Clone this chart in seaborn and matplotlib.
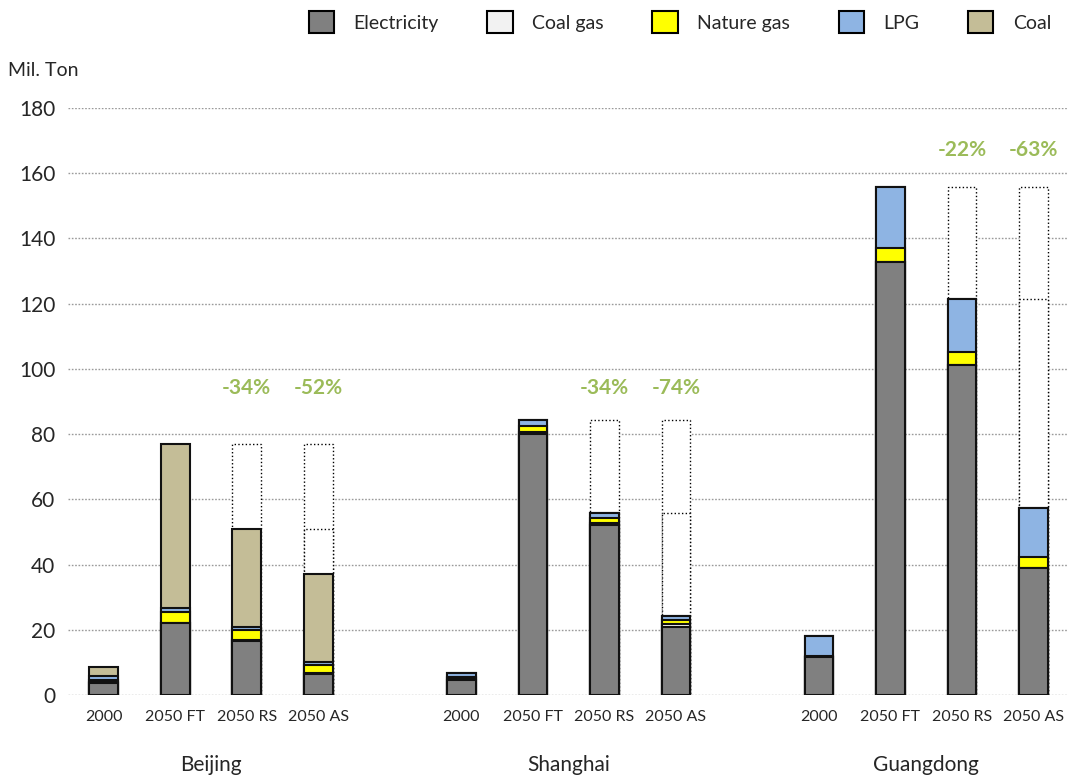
import numpy as np
import pandas as pd
import matplotlib
matplotlib.use("Agg")
import matplotlib.pyplot as plt
import seaborn as sns
from matplotlib.patches import Patch

# ---- data (Mil. Ton) -------------------------------------------------------
regions = ["Beijing", "Shanghai", "Guangdong"]
scenarios = ["2000", "2050 FT", "2050 RS", "2050 AS"]

# one value per bar, ordered Beijing x4, Shanghai x4, Guangdong x4
electricity = [3.6, 22.0, 16.7, 6.4, 4.6, 80.0, 52.1, 21.0, 11.5, 132.7, 101.2, 38.9]
coal_gas = [0.3, 0.2, 0.2, 0.2, 0.7, 0.8, 0.6, 0.8, 0.3, 0.0, 0.0, 0.0]
nature_gas = [0.8, 3.2, 2.9, 2.6, 0.2, 1.7, 1.5, 1.2, 0.1, 4.5, 3.9, 3.5]
lpg = [1.1, 1.3, 1.2, 1.0, 1.1, 1.7, 1.5, 1.3, 6.1, 18.6, 16.3, 14.9]
coal = [2.9, 50.2, 30.0, 26.9, 0.0, 0.0, 0.0, 0.0, 0.0, 0.0, 0.0, 0.0]

# reduction against 2050 FT, for the RS and AS bars of each region
reductions = ["-34%", "-52%", "-34%", "-74%", "-22%", "-63%"]
reduction_y = [94, 94, 94, 94, 167, 167]

series_names = ["Electricity", "Coal gas", "Nature gas", "LPG", "Coal"]
series_colors = ["#808080", "#F2F2F2", "#FFFF00", "#8EB4E3", "#C4BD97"]
green = "#9BBB59"

# ---- table ------------------------------------------------------------------
n_sc = len(scenarios)
pos = [g * (n_sc + 1) + i for g in range(len(regions)) for i in range(n_sc)]
layers = np.array([electricity, coal_gas, nature_gas, lpg, coal])
cum = np.cumsum(layers, axis=0)
df = pd.DataFrame({"pos": pos})
for name, c in zip(series_names, cum):
    df[name] = c
total = cum[-1]

# dotted outlines: saved amount relative to FT (and RS for the AS bars)
ft_level = np.zeros(len(pos))
rs_level = np.zeros(len(pos))
for g in range(len(regions)):
    b = g * n_sc
    ft_level[b + 2] = total[b + 1]
    ft_level[b + 3] = total[b + 1]
    rs_level[b + 3] = total[b + 2]
df["ft_level"] = ft_level
df["rs_level"] = rs_level

# ---- figure -----------------------------------------------------------------
sns.set_theme(style="white")
plt.rcParams["font.family"] = ["Lato", "DejaVu Sans"]

fig = plt.figure(figsize=(10.67, 7.80), dpi=100)
ax = fig.add_axes([68 / 1067, 85 / 780, 999 / 1067, 587 / 780])

bar_kw = dict(x="pos", native_scale=True, width=0.4, saturation=1,
              errorbar=None, ax=ax)

for col in ["ft_level", "rs_level"]:
    sns.barplot(data=df, y=col, color="white", edgecolor="black",
                linewidth=1.0, linestyle=":", **bar_kw)

for name, color in reversed(list(zip(series_names, series_colors))):
    sns.barplot(data=df, y=name, color=color, edgecolor="#111111",
                linewidth=1.5, **bar_kw)

# reduction labels
lab_pos = [p for i, p in enumerate(pos) if i % n_sc >= 2]
for x, txt, y in zip(lab_pos, reductions, reduction_y):
    ax.text(x, y, txt, ha="center", va="center", color=green,
            fontsize=15, fontweight="bold")

# axes styling
ax.set_xlim(-0.5, 13.47)
ax.set_ylim(0, 180)
ax.set_yticks(np.arange(0, 181, 20))
ax.set_xticks(pos)
ax.set_xticklabels(scenarios * len(regions), fontsize=11.5)
ax.tick_params(axis="x", length=0, pad=11)
ax.tick_params(axis="y", length=0, pad=9, labelsize=15)
ax.set_xlabel("")
ax.set_ylabel("")
for s in ax.spines.values():
    s.set_visible(False)
ax.set_axisbelow(True)
ax.yaxis.grid(True, linestyle=(0, (1.2, 1.2)), color="#9A9A9A", linewidth=1.0)
ax.xaxis.grid(False)

for g, reg in enumerate(regions):
    cx = g * (n_sc + 1) + (n_sc - 1) / 2
    ax.text(cx, -0.119, reg, transform=ax.get_xaxis_transform(),
            ha="center", va="center", fontsize=15)

fig.text(8 / 1067, 1 - 70 / 780, "Mil. Ton", ha="left", va="center",
         fontsize=14)

handles = [Patch(facecolor=c, edgecolor="black", linewidth=1.5, label=n)
           for n, c in zip(series_names, series_colors)]
fig.legend(handles=handles, loc="center", ncol=5, frameon=False,
           bbox_to_anchor=(680 / 1067, 1 - 22 / 780), fontsize=14,
           handlelength=1.3, handleheight=1.3, handletextpad=1.0,
           columnspacing=2.5)

fig.savefig("out.png", dpi=100, facecolor="white")
